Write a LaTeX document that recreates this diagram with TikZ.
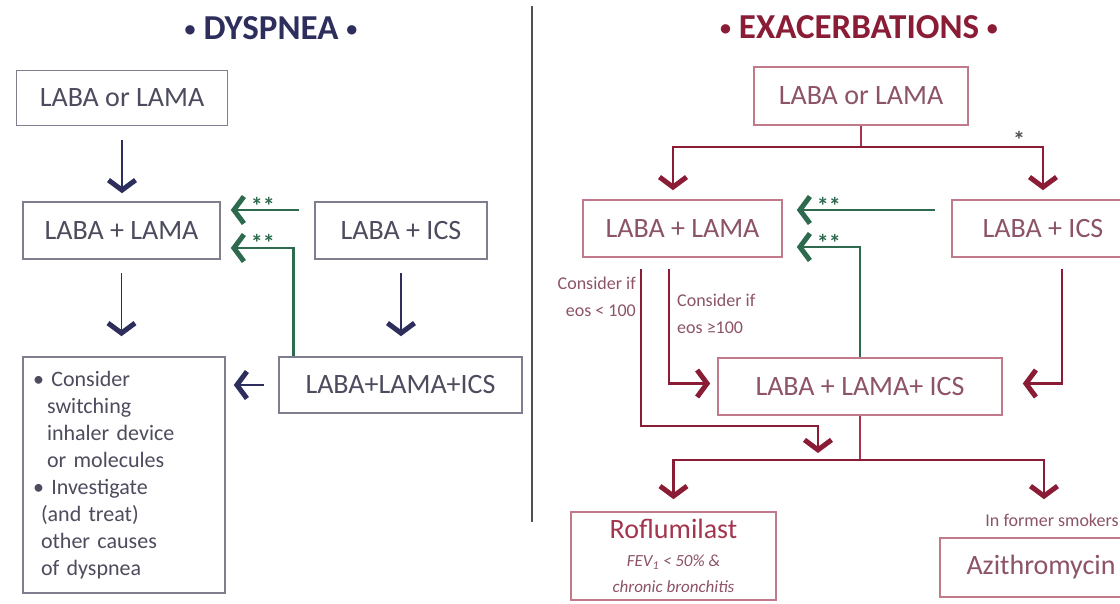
\documentclass[tikz,border=0pt]{standalone}
\usepackage{fontspec}
\setmainfont{Carlito}
\usetikzlibrary{arrows.meta,calc}

\definecolor{dnavy}{HTML}{2E2E5C}
\definecolor{dframe}{HTML}{7E7E8E}
\definecolor{dtext}{HTML}{4C4C5E}
\definecolor{egreen}{HTML}{2D6A4E}
\definecolor{ered}{HTML}{A3354E}
\definecolor{edark}{HTML}{8A1C36}
\definecolor{eframe}{HTML}{C07A8A}
\definecolor{etext}{HTML}{8C5466}
\definecolor{divgray}{HTML}{505050}

\newcommand{\smallit}[1]{{\fontsize{17}{19}\selectfont\itshape #1}}
\newcommand{\dotmark}{\raisebox{3pt}{\fontsize{22}{22}\selectfont\textbullet}}

\tikzset{
  dbox/.style={draw=dframe, line width=1.6pt, text=dtext, inner sep=0pt,
    align=center, font=\fontsize{28}{32}\selectfont},
  ebox/.style={dbox, draw=eframe, text=etext},
  chev/.style={-{Straight Barb[length=10pt,width=27pt,line width=5pt]}},
  darrow/.style={chev, draw=dnavy, line width=1.8pt},
  garrow/.style={chev, draw=egreen, line width=2.6pt},
  rline/.style={draw=ered, line width=2.8pt},
  rarrow/.style={rline, -{Straight Barb[length=10pt,width=27pt,line width=5pt]}, edark},
  stars/.style={text=egreen, font=\fontsize{24}{24}\selectfont\bfseries, inner sep=0pt},
  note/.style={text=etext, font=\fontsize{18}{27}\selectfont, inner sep=0pt}
}

\begin{document}
\begin{tikzpicture}[x=1pt, y=-1pt]
  \useasboundingbox[fill=white] (0,0) rectangle (1120,604);

  % dyspnea side
  \node[text=dnavy, font=\fontsize{35}{38}\selectfont\bfseries] (dTitle) at (271,28) {\dotmark\ DYSPNEA \dotmark};
  \node[dbox, minimum width=211, minimum height=55] (dOne) at (122,98) {LABA or LAMA};
  \node[dbox, minimum width=197, minimum height=57] (dLL) at (121.5,230.5) {LABA + LAMA};
  \node[dbox, minimum width=172, minimum height=57] (dLI) at (401,230.5) {LABA + ICS};
  \node[dbox, minimum width=243, minimum height=56] (dLLI) at (400.5,385) {LABA+LAMA+ICS};
  \node[dbox, minimum width=202, minimum height=236, text width=182, align=left,
    font=\fontsize{22}{27}\selectfont] (dNote) at (124,475)
    {\textbullet\ Consider\\ \hspace*{14pt}switching\\ \hspace*{14pt}inhaler device\\ \hspace*{14pt}or molecules\\
     \textbullet\ Investigate\\ \hspace*{8pt}(and treat)\\ \hspace*{8pt}other causes\\ \hspace*{8pt}of dyspnea};

  \draw[darrow, shorten <=14pt, shorten >=8pt] (dOne.south) -- (dOne.south |- dLL.north);
  \draw[darrow, shorten <=13pt, shorten >=20pt] (dLL.south) -- (dLL.south |- dLLI.north);
  \draw[darrow, shorten <=13pt, shorten >=20pt] (dLI.south) -- (dLI.south |- dLLI.north);
  \draw[darrow, shorten <=14pt, shorten >=8pt] (dLLI.west) -- (dLLI.west -| dNote.east);

  \draw[garrow] ($(dLI.west)+(-15,-20.5)$) -- ($(dLL.east)+(10,-20.5)$);
  \draw[garrow] ($(dLLI.north west)+(15,0)$) |- ($(dLL.east)+(10,17.5)$);
  \node[stars] (dStarA) at ($(dLL.east)+(42,-25)$) {**};
  \node[stars] (dStarB) at ($(dLL.east)+(42,12)$) {**};

  % divider
  \draw[divgray, line width=2.2pt] (532,6) -- (532,522);

  % exacerbations side
  \node[text=edark, font=\fontsize{35}{38}\selectfont\bfseries] (eTitle) at (859,27) {\dotmark\ EXACERBATIONS \dotmark};
  \node[ebox, minimum width=214, minimum height=58] (eOne) at (861,96) {LABA or LAMA};
  \node[ebox, minimum width=199, minimum height=57] (eLL) at (682.5,228.5) {LABA + LAMA};
  \node[ebox, minimum width=182, minimum height=57] (eLI) at (1043,228.5) {LABA + ICS};
  \node[ebox, minimum width=284, minimum height=57] (eLLI) at (860,386.5) {LABA + LAMA+ ICS};
  \node[ebox, minimum width=205, minimum height=88] (eRof) at (673.5,556)
    {\textcolor{ered}{Roflumilast}\\[-4pt]
     \smallit{FEV\textsubscript{1} < 50\% \&}\\[-6pt] \smallit{chronic bronchitis}};
  \node[ebox, minimum width=202, minimum height=59] (eAzi) at (1041,567.5) {Azithromycin};
  \node[note] (eSmokers) at (1052,520) {In former smokers};

  \coordinate (eSplit) at (861,147);
  \draw[rline] (eOne.south) -- (eSplit);
  \draw[rarrow, shorten >=9pt] (eSplit) -| ($(eLL.north)+(-9.5,0)$);
  \draw[rarrow, shorten >=9pt] (eSplit) -| (eLI.north);
  \node[stars, text=divgray] (eStar) at (1019,140) {*};

  \draw[garrow] ($(eLI.west)+(-16,-18.5)$) -- ($(eLL.east)+(14,-18.5)$);
  \draw[garrow] (eLLI.north) |- ($(eLL.east)+(14,18.5)$);
  \node[stars] (eStarA) at ($(eLL.east)+(46,-23)$) {**};
  \node[stars] (eStarB) at ($(eLL.east)+(46,14)$) {**};

  \coordinate (eJoin) at (818,453);
  \draw[rarrow] ($(eLL.south)+(-41.5,11)$) |- ($(eJoin)+(0,-27)$) -- (eJoin);
  \draw[rarrow, shorten >=7pt] ($(eLL.south)+(-13.5,11)$) |- ($(eLLI.west)+(0,-3)$);
  \draw[rarrow, shorten >=20pt] ($(eLI.south)+(19,11)$) |- ($(eLLI.east)+(0,-3)$);
  \node[note, anchor=east, align=right] (eLow) at (636,297) {Consider if\\eos < 100};
  \node[note, anchor=west, align=left] (eHigh) at (677,314) {Consider if\\eos ≥100};

  \coordinate (eSplitB) at (860,460);
  \draw[rline] (eLLI.south) -- (eSplitB);
  \draw[rarrow, shorten >=12pt] (eSplitB) -| (eRof.north);
  \draw[rarrow, shorten >=38pt] (eSplitB) -| ($(eAzi.north)+(3,0)$);
\end{tikzpicture}
\end{document}
